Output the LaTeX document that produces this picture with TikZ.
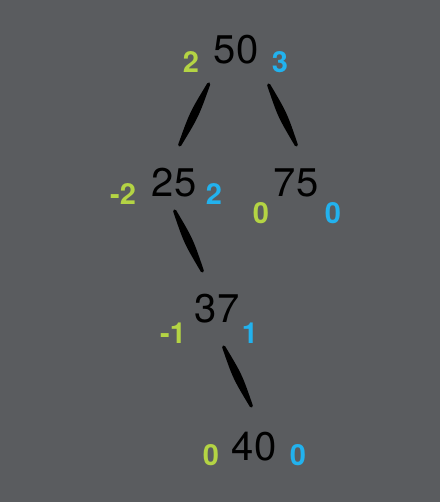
\documentclass[tikz,border=0pt]{standalone}
\usepackage{fontspec}
\setmainfont{TeX Gyre Heros}
\usetikzlibrary{calc}
\definecolor{slate}{RGB}{90,92,95}
\definecolor{lgreen}{RGB}{180,212,68}
\definecolor{lblue}{RGB}{34,178,238}

\begin{document}
\begin{tikzpicture}[x=1pt,y=-1pt,
	key node/.style={anchor=base,inner sep=0pt,font=\fontsize{40}{48}\selectfont},
	bal node/.style={anchor=base,inner sep=0pt,font=\bfseries\fontsize{29}{34}\selectfont},
	brush/.style={draw=black,fill=black,line width=3.2pt,line cap=round,line join=round,
		to path={.. controls ($(\tikztostart)!0.5!(\tikztotarget)!3.4pt!90:(\tikztotarget)$) .. (\tikztotarget)
			.. controls ($(\tikztostart)!0.5!(\tikztotarget)!3.4pt!-90:(\tikztotarget)$) .. (\tikztostart)}}]
	
	\fill[slate] (0,0) rectangle (440,502);
	\useasboundingbox (0,0) rectangle (440,502);
	
	\node[key node] at (236,64) (n50) {50};
	\node[key node] at (174,197) (n25) {25};
	\node[key node] at (296,197) (n75) {75};
	\node[key node] at (217,322) (n37) {37};
	\node[key node] at (254,460) (n40) {40};
	
	\node[bal node,lgreen] at (191,73) (l50) {2};
	\node[bal node,lblue] at (280,73) (r50) {3};
	\node[bal node,lgreen] at (123,205) (l25) {-2};
	\node[bal node,lblue] at (214,205) (r25) {2};
	\node[bal node,lgreen] at (261,223) (l75) {0};
	\node[bal node,lblue] at (333,223) (r75) {0};
	\node[bal node,lgreen] at (173,343) (l37) {-1};
	\node[bal node,lblue] at (250,343) (r37) {1};
	\node[bal node,lgreen] at (211,465) (l40) {0};
	\node[bal node,lblue] at (298,465) (r40) {0};
	
	\path[every edge/.style={brush}]
	([shift={(-27.3,20)}]n50.base) edge ([shift={(5.7,-52)}]n25.base)
	([shift={(32.7,21)}]n50.base) edge ([shift={(0.3,-52)}]n75.base)
	([shift={(0.7,14)}]n25.base) edge ([shift={(-14.7,-51)}]n37.base)
	([shift={(6.7,25)}]n37.base) edge ([shift={(-2.7,-54)}]n40.base);
\end{tikzpicture}
\end{document}
